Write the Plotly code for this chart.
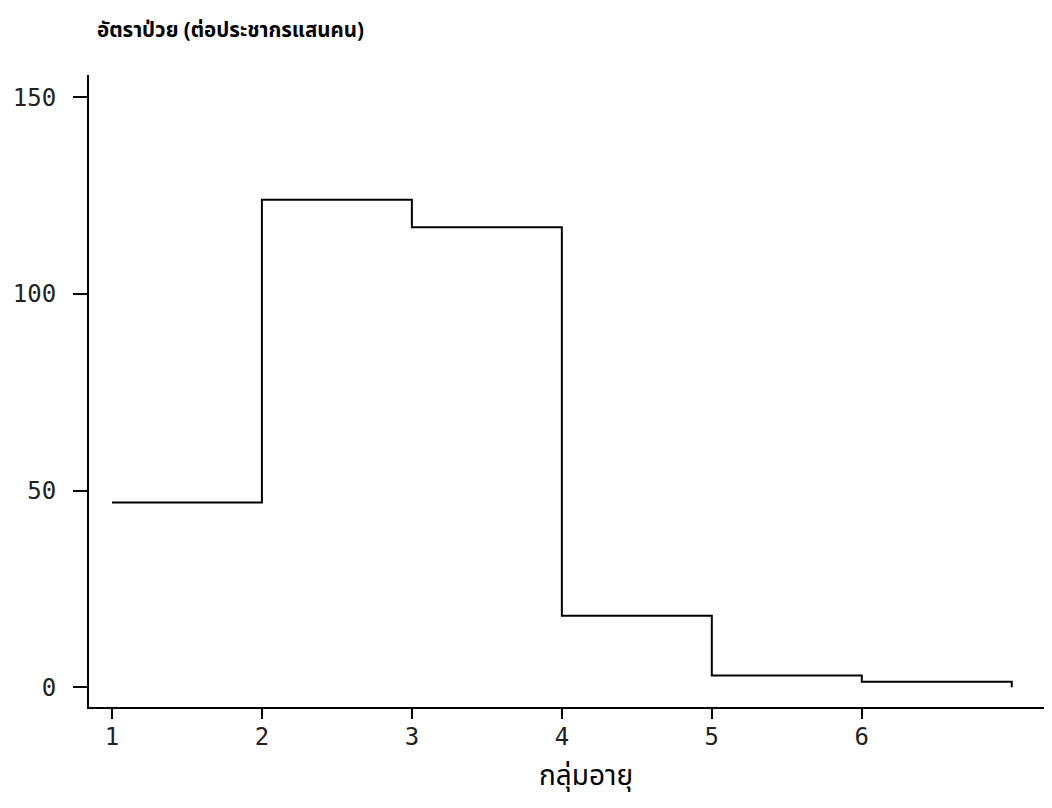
import plotly.graph_objects as go

# Age-group step boundaries and incidence rates (per 100,000 population)
age_group_edges = [1, 2, 3, 4, 5, 6, 7]
rates = [47, 124, 117, 18.2, 3.0, 1.4]
end_value = 0

x_tick_vals = [1, 2, 3, 4, 5, 6]
x_tick_text = ["1", "2", "3", "4", "5", "6"]
y_tick_vals = [0, 50, 100, 150]
y_tick_text = ["0", "50", "100", "150"]

title_text = "อัตราป่วย (ต่อประชากรแสนคน)"
x_title_text = "กลุ่มอายุ"

# page has an 8px body margin; figure sized to fit the 1052x808 window
OFF = 8
W, H = 1044, 792
ML, MR, MT, MB = 81, 2, 67, 93
plot_w = W - ML - MR
plot_h = H - MT - MB

def px_to_paper_x(page_px):
    return (page_px - OFF - ML) / plot_w

def px_to_paper_y(page_py):
    return (H - MB - (page_py - OFF)) / plot_h

fig = go.Figure()
fig.add_trace(go.Scatter(
    x=age_group_edges,
    y=rates + [end_value],
    mode="lines",
    line=dict(shape="hv", color="black", width=2),
    hoverinfo="skip",
    showlegend=False,
))

tick_font = dict(family="DejaVu Sans Mono, monospace", size=24, color="#222222")
thai_font = "Noto Sans Thai, Loma, Garuda, Noto Sans, sans-serif"

fig.update_layout(
    width=W, height=H,
    margin=dict(l=ML, r=MR, t=MT, b=MB),
    paper_bgcolor="white",
    plot_bgcolor="white",
    xaxis=dict(
        range=[0.847, 7.255],
        showgrid=False, zeroline=False,
        showline=True, linecolor="black", linewidth=2,
        ticks="outside", ticklen=10, tickwidth=1.5, tickcolor="black",
        tickvals=x_tick_vals, ticktext=x_tick_text,
        tickfont=tick_font,
        ticklabelstandoff=-3,
    ),
    yaxis=dict(
        range=[-5, 155.7],
        showgrid=False, zeroline=False,
        showline=True, linecolor="black", linewidth=2,
        ticks="outside", ticklen=14, tickwidth=1.5, tickcolor="black",
        tickvals=y_tick_vals, ticktext=y_tick_text,
        tickfont=tick_font,
        ticklabelstandoff=12,
    ),
    annotations=[
        dict(
            text="<b>" + title_text + "</b>", xref="paper", yref="paper",
            x=px_to_paper_x(95), y=px_to_paper_y(30),
            xanchor="left", yanchor="middle", showarrow=False,
            font=dict(family=thai_font, size=20.5, color="black"),
        ),
        dict(
            text=x_title_text, xref="paper", yref="paper",
            x=px_to_paper_x(586), y=px_to_paper_y(776),
            xanchor="center", yanchor="middle", showarrow=False,
            font=dict(family=thai_font, size=28, color="black"),
        ),
    ],
)

fig.write_html("out.html")
